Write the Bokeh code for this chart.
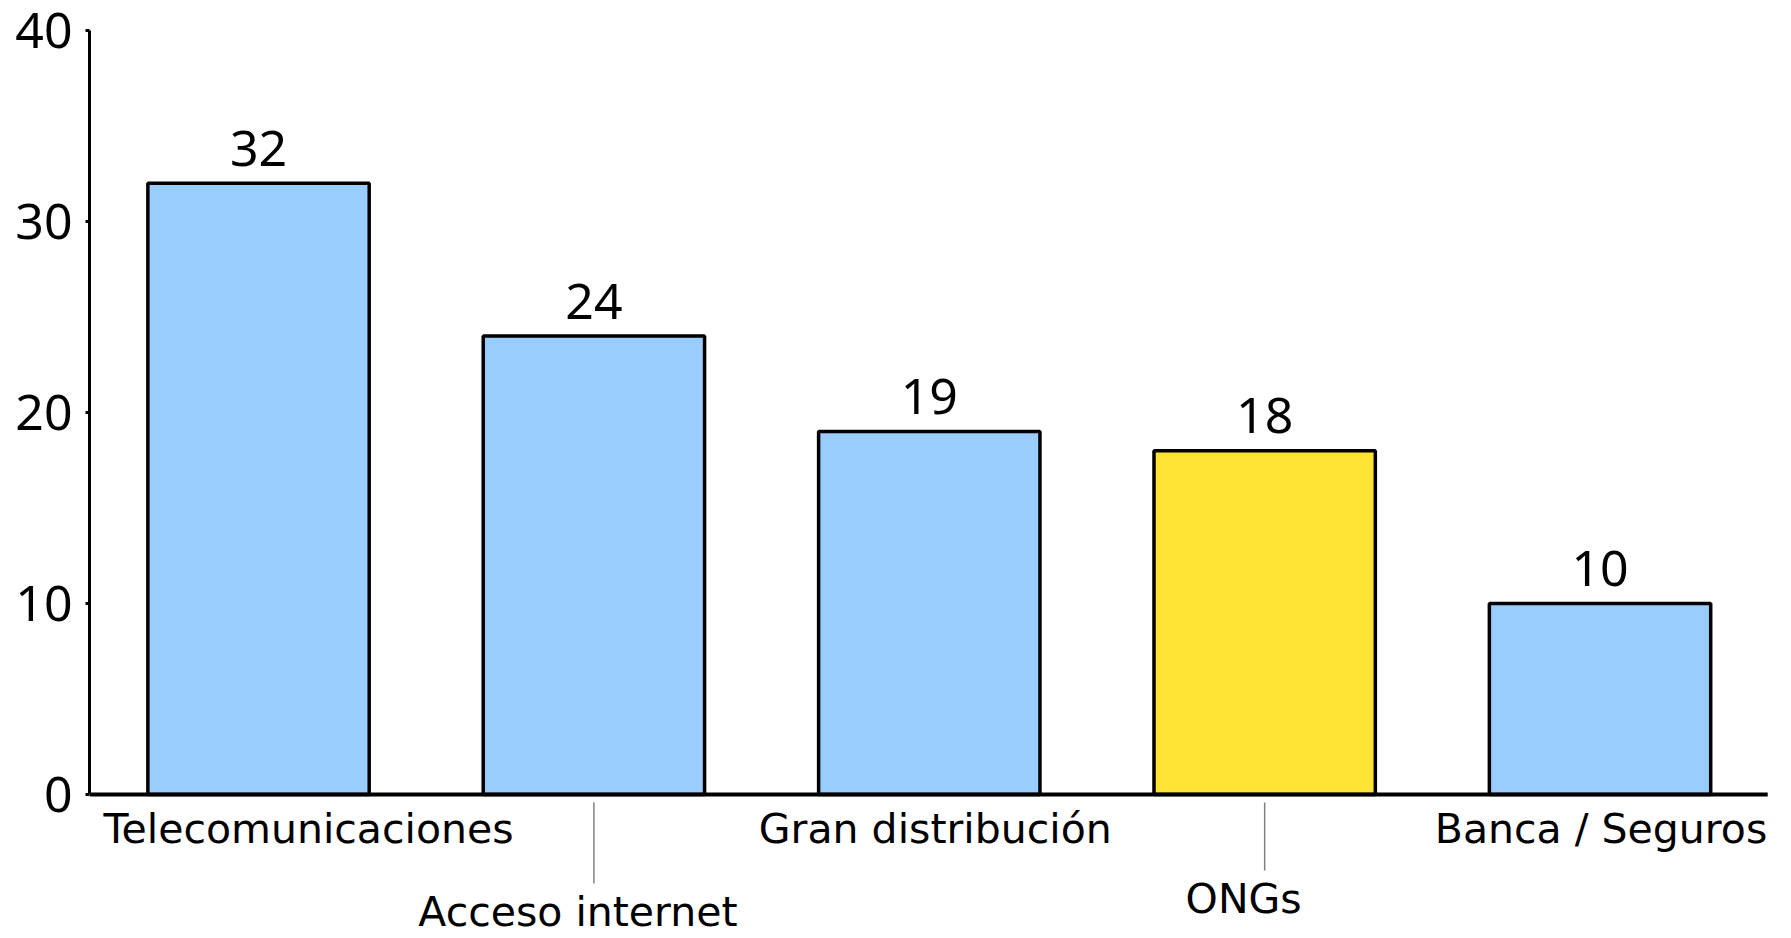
from bokeh.plotting import figure
from bokeh.models import Range1d, FixedTicker, ColumnDataSource
from bokeh.core.properties import value
from bokeh.embed import file_html
from bokeh.resources import INLINE

# ---- data ----
categories = ["Telecomunicaciones", "Acceso internet", "Gran distribución", "ONGs", "Banca / Seguros"]
values = [32, 24, 19, 18, 10]
highlight = "ONGs"
y_ticks = [0, 10, 20, 30, 40]

# ---- style / layout ----
BLUE = "#99CCFF"
YELLOW = "#FFE333"
W, H = 1791, 938
top_border = 10
baseline_from_bottom = 144          # pixels from frame bottom to y=0
px_per_unit = 19.1
frame_h = H - top_border
label_drop = [34, 117, 34, 104, 34]  # px below baseline (text middle)
label_dx = [50, -16, 6, -21, 1]      # px horizontal nudges
connector_top = 8
connector_bottom = [None, 89, None, 76, None]
value_gap = 35

n = len(categories)
idx = list(range(n))
colors = [YELLOW if c == highlight else BLUE for c in categories]

y_start = -baseline_from_bottom / px_per_unit
y_end = (frame_h - baseline_from_bottom) / px_per_unit

p = figure(width=W, height=H, output_backend="svg", toolbar_location=None,
           x_range=Range1d(-0.504, 4.553), y_range=Range1d(y_start, y_end),
           x_axis_location=None,
           min_border_left=89, min_border_right=6,
           min_border_top=top_border, min_border_bottom=0)
p.extra_y_ranges = {"px": Range1d(-baseline_from_bottom, frame_h - baseline_from_bottom)}

p.outline_line_color = None
p.grid.visible = False
p.background_fill_color = "white"
p.border_fill_color = "white"

# y axis
ya = p.yaxis[0]
ya.ticker = FixedTicker(ticks=y_ticks)
ya.bounds = (y_ticks[0], y_ticks[-1])
ya.axis_line_width = 3
ya.axis_line_color = "black"
ya.major_tick_line_width = 3
ya.major_tick_line_color = "black"
ya.major_tick_in = 0
ya.major_tick_out = 4
ya.minor_tick_line_color = None
ya.major_label_text_font = "Noto Sans"
ya.major_label_text_font_size = "50px"
ya.major_label_text_color = "black"
ya.major_label_standoff = 13

# bars
src = ColumnDataSource(dict(x=idx, top=values, color=colors,
                            lab=[str(v) for v in values]))
p.vbar(x="x", top="top", width=0.66, source=src, fill_color="color",
       line_color="black", line_width=3.5)

# baseline
p.segment(x0=[p.x_range.start], y0=[0], x1=[n - 0.5], y1=[0],
          line_color="black", line_width=4)

# value labels
p.text(x="x", y="top", text="lab", source=src, y_offset=-value_gap,
       text_align="center", text_baseline="alphabetic",
       text_font=value("Noto Sans"), text_font_size=value("50px"),
       text_color="black")

# category labels (staggered)
csrc = ColumnDataSource(dict(x=idx, y=[-d for d in label_drop], text=categories, dx=label_dx))
p.text(x="x", y="y", text="text", x_offset="dx", source=csrc, y_range_name="px",
       text_align="center", text_baseline="alphabetic",
       text_font=value("DejaVu Sans"), text_font_size=value("41px"),
       text_color="black")

# connector lines for lowered labels
cx = [i for i in idx if connector_bottom[i] is not None]
p.segment(x0=cx, y0=[-connector_top] * len(cx), x1=cx,
          y1=[-connector_bottom[i] for i in cx], y_range_name="px",
          line_color="#808080", line_width=1.5)

open("out.html", "w").write(file_html(p, INLINE))
